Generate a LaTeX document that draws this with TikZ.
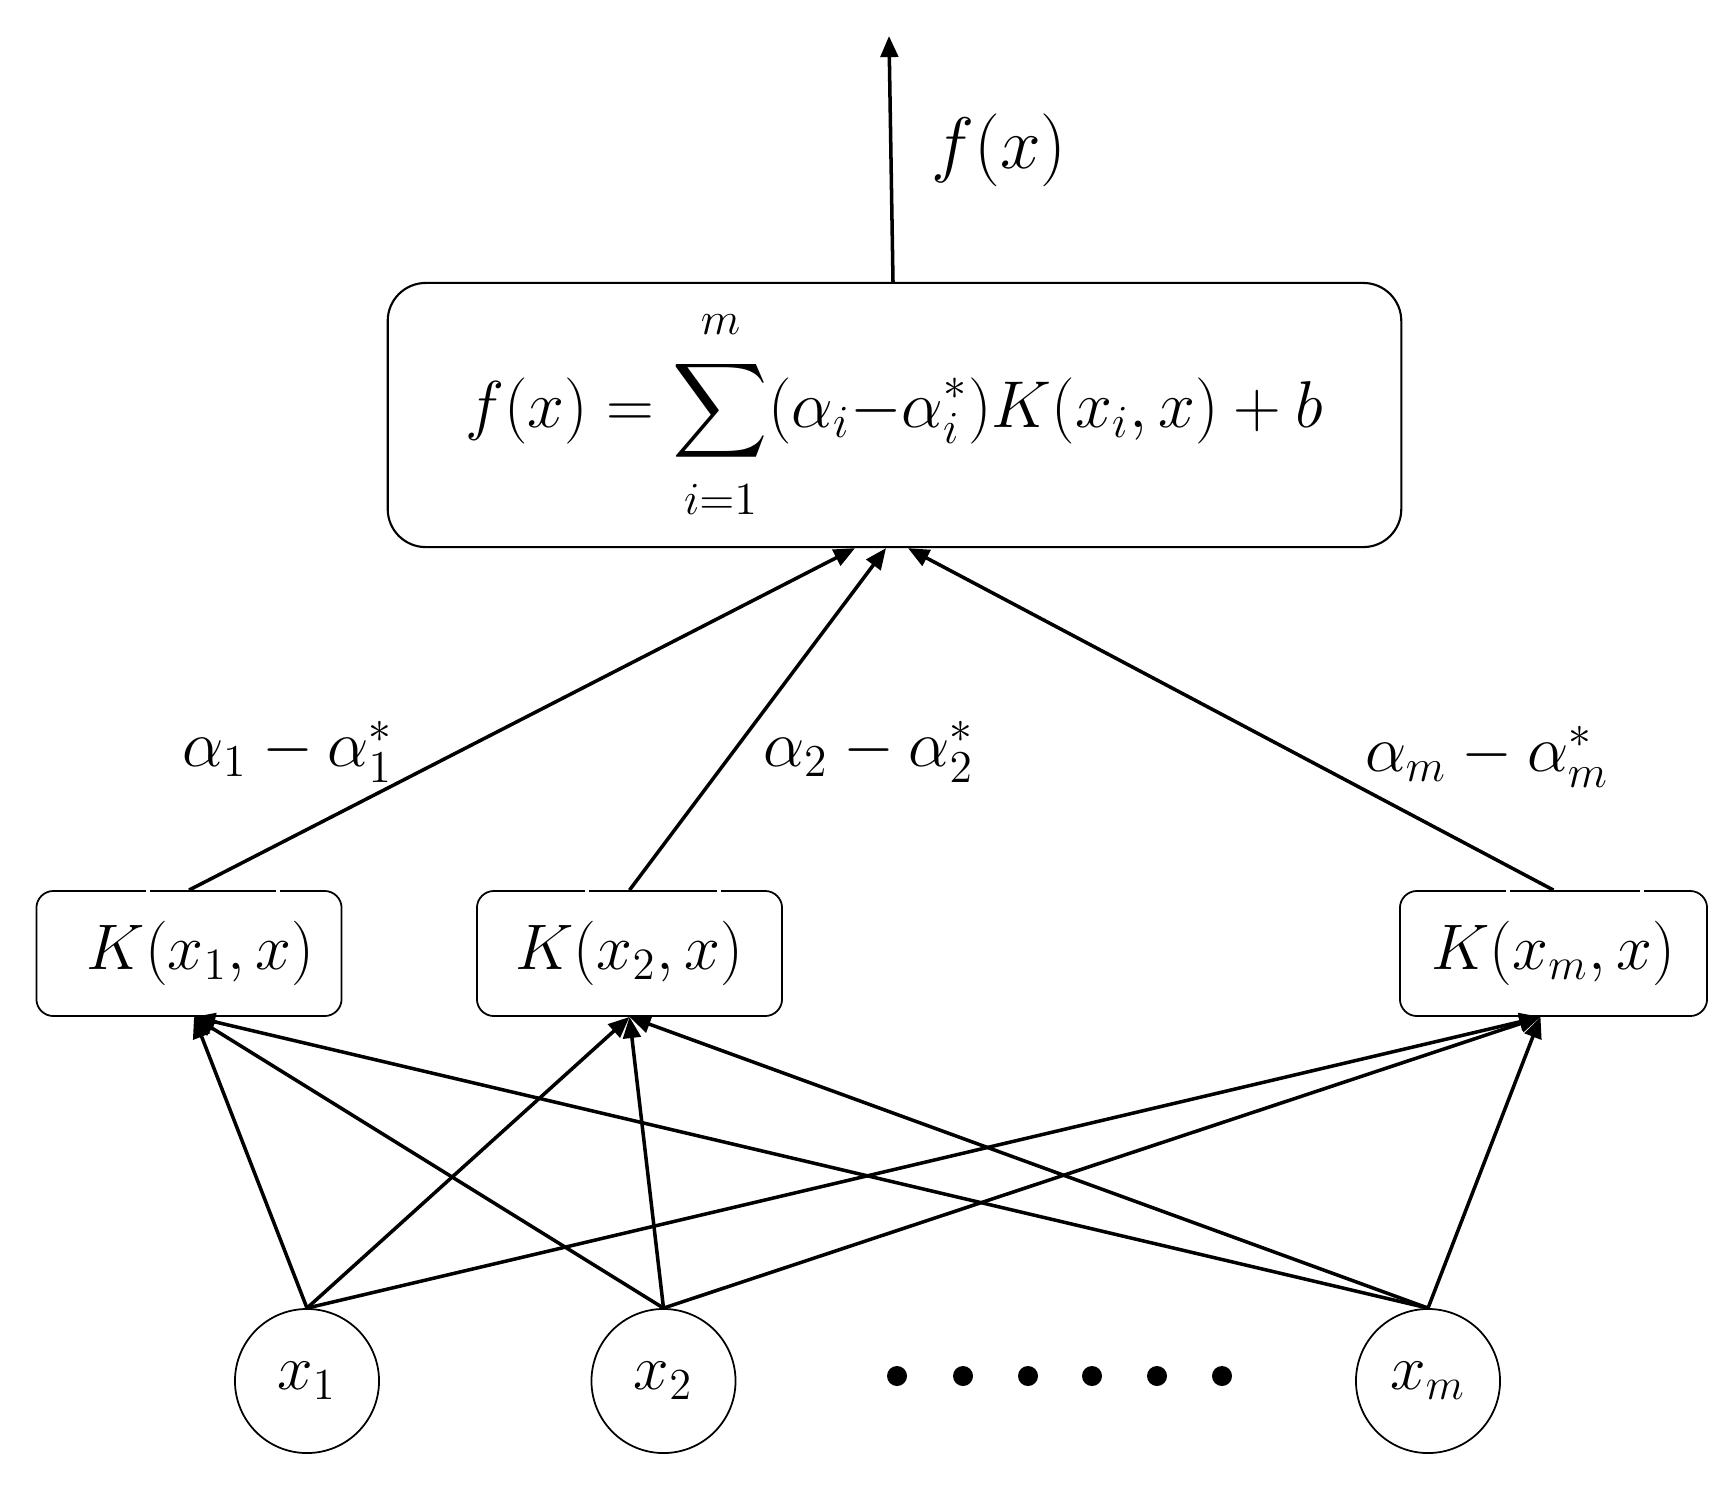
\documentclass[tikz,border=0pt]{standalone}
\usepackage{amsmath}
\usetikzlibrary{arrows.meta,calc}
\begin{document}
\begin{tikzpicture}[x=0.01cm,y=-0.01cm,
  txt/.style={font=\LARGE, inner sep=0pt},
  mainbox/.style={draw, line width=0.6pt, rounded corners=0.38cm, minimum width=10.13cm, minimum height=2.64cm, inner sep=0pt, font=\LARGE},
  kbox/.style={draw, line width=0.5pt, rounded corners=0.17cm, minimum width=3.05cm, minimum height=1.25cm, inner sep=0pt, font=\LARGE},
  inbox/.style={draw, circle, line width=0.5pt, minimum size=1.44cm, inner sep=0pt, font=\LARGE},
  dotnode/.style={circle, fill=black, minimum size=0.2cm, inner sep=0pt},
  conn/.style={line width=1pt, -{Triangle[length=6pt,width=5pt]}},
  gapline/.style={draw=white, line width=1.2pt}
]
\useasboundingbox (0,0) rectangle (1727,1487);

% main summation box
\node[mainbox] (main) at (894.5,415) {\scalebox{1.09}{$\displaystyle f(x)=\sum_{\rule{0pt}{10.5pt}i=1}^{m\rule[-4pt]{0pt}{0pt}}(\alpha_i{-}\alpha_i^*)K(x_i,x)+b$}};

% output
\coordinate (out) at (889,36);
\draw[conn] ($(main.north)+(-1.5,0)$) -- (out);
\node[txt, font=\huge] (fx) at (999,150) {$f(x)$};

% kernel boxes
\node[kbox] (k1) at (189,953.5) {\scalebox{1.06}{$\kern0.22cm K(x_1,x)$}};
\node[kbox] (k2) at (629.5,953.5) {\scalebox{1.06}{$K(x_2,x)$}};
\node[kbox, minimum width=3.07cm] (km) at (1553.5,953.5) {\scalebox{1.06}{$K(x_m,x)$}};

% small gaps in the top borders
\foreach \gx in {148,278,587,719,1508,1642}{
  \draw[gapline] (\gx-2,891) -- (\gx+2,891);
}

% weights into main box
\draw[conn] (k1.north) -- ($(main.south)+(-39.5,0)$);
\draw[conn] (k2.north) -- ($(main.south)+(-8.5,0)$);
\draw[conn] (km.north) -- ($(main.south)+(13.5,0)$);

\node[txt] (l1) at (288,752) {\scalebox{1.08}{$\alpha_1-\alpha_1^*$}};
\node[txt] (l2) at (869,752) {\scalebox{1.08}{$\alpha_2-\alpha_2^*$}};
\node[txt] (lm) at (1487,757) {\scalebox{1.08}{$\alpha_m-\alpha_m^*$}};

% inputs
\node[inbox] (c1) at (307,1381) {\scalebox{1.05}{$x_1$}};
\node[inbox] (c2) at (663.5,1381) {\scalebox{1.05}{$x_2$}};
\node[inbox] (cm) at (1428,1381) {\scalebox{1.05}{$x_m$}};

\foreach \dx [count=\i] in {897,963,1028,1092,1157,1222}{
  \node[dotnode] (d\i) at (\dx,1376) {};
}

% input connections
\coordinate (t1) at ($(k1.south)+(5,0)$);
\coordinate (t2) at (k2.south);
\coordinate (tm) at ($(km.south)+(-13,0)$);
\foreach \c in {c1,c2,cm}{
  \foreach \t in {t1,t2,tm}{
    \draw[conn] (\c.north) -- (\t);
  }
}
\end{tikzpicture}
\end{document}
